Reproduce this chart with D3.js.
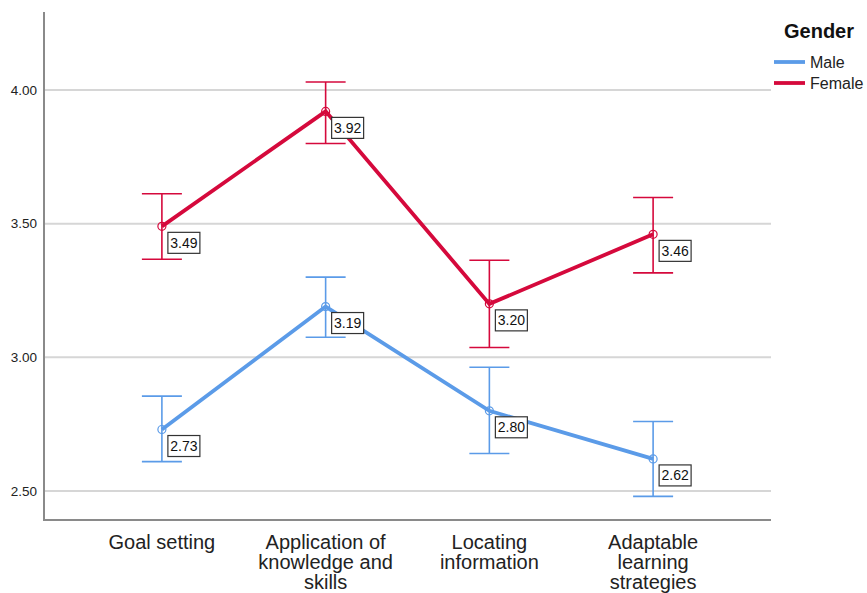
<!DOCTYPE html>
<html>
<head>
<meta charset="utf-8">
<script src="https://cdn.jsdelivr.net/npm/d3@7"></script>
<style>
  body { margin: 0; background: #fff; }
  svg { display: block; font-family: "Liberation Sans", Arial, sans-serif; }
</style>
</head>
<body>
<svg id="chart" width="867" height="593"></svg>
<script>
// Estimated marginal means by gender across four learning dimensions
const categories = [
  ["Goal setting"],
  ["Application of", "knowledge and", "skills"],
  ["Locating", "information"],
  ["Adaptable", "learning", "strategies"]
];
const categoryKeys = ["Goal setting", "Application of knowledge and skills", "Locating information", "Adaptable learning strategies"];
const groups = ["Male", "Female"];
const groupColors = ["#5b9be8", "#d5093c"];

const maleMeans = [2.73, 3.19, 2.80, 2.62];
const maleLow   = [2.61, 3.075, 2.64, 2.48];
const maleHigh  = [2.855, 3.30, 2.963, 2.76];

const femaleMeans = [3.49, 3.92, 3.20, 3.46];
const femaleLow   = [3.367, 3.80, 3.037, 3.316];
const femaleHigh  = [3.612, 4.03, 3.363, 3.598];

const yTicks = [2.50, 3.00, 3.50, 4.00];

const series = [
  { name: groups[0], color: groupColors[0], mean: maleMeans, low: maleLow, high: maleHigh },
  { name: groups[1], color: groupColors[1], mean: femaleMeans, low: femaleLow, high: femaleHigh }
];

const svg = d3.select("#chart");
const plot = { left: 44, right: 771, top: 12, bottom: 520 };

const x = d3.scalePoint().domain(categoryKeys).range([plot.left, plot.right]).padding(0.72);
const y = d3.scaleLinear().domain([2.5, 4.0]).range([491, 90]);

// gridlines
svg.append("g").selectAll("line").data(yTicks).join("line")
  .attr("x1", plot.left).attr("x2", plot.right)
  .attr("y1", d => y(d)).attr("y2", d => y(d))
  .attr("stroke", "#d6d6d6").attr("stroke-width", 2);

// y axis
const yAxis = d3.axisLeft(y).tickValues(yTicks).tickFormat(d3.format(".2f")).tickSize(0).tickPadding(7);
const gy = svg.append("g").attr("transform", `translate(${plot.left},0)`).call(yAxis);
gy.select(".domain").remove();
gy.selectAll("text").attr("font-size", 13.5).attr("fill", "#222");
svg.append("line").attr("x1", plot.left).attr("x2", plot.left)
  .attr("y1", plot.top).attr("y2", plot.bottom).attr("stroke", "#8a8a8a").attr("stroke-width", 2);

// x axis
const xAxis = d3.axisBottom(x).tickSize(0).tickFormat("");
const gx = svg.append("g").attr("transform", `translate(0,${plot.bottom})`).call(xAxis);
gx.select(".domain").remove();
svg.append("line").attr("x1", plot.left - 1).attr("x2", plot.right)
  .attr("y1", plot.bottom).attr("y2", plot.bottom).attr("stroke", "#8a8a8a").attr("stroke-width", 2);

const catLabels = svg.append("g").selectAll("text").data(categoryKeys).join("text")
  .attr("x", d => x(d)).attr("y", 549)
  .attr("text-anchor", "middle").attr("font-size", 20).attr("fill", "#222");
catLabels.each(function(d, i) {
  d3.select(this).selectAll("tspan").data(categories[i]).join("tspan")
    .attr("x", x(d)).attr("dy", (t, j) => j === 0 ? 0 : 20).text(t => t);
});

// series
const capHalf = 20;
series.forEach(s => {
  const g = svg.append("g");
  const pts = categoryKeys.map((k, i) => ({ k, i }));
  // error bars
  const eb = g.append("g").attr("stroke", s.color).attr("stroke-width", 1.6);
  eb.selectAll(".stem").data(pts).join("line")
    .attr("x1", d => x(d.k)).attr("x2", d => x(d.k))
    .attr("y1", d => y(s.low[d.i])).attr("y2", d => y(s.high[d.i]));
  eb.selectAll(".capTop").data(pts).join("line")
    .attr("x1", d => x(d.k) - capHalf).attr("x2", d => x(d.k) + capHalf)
    .attr("y1", d => y(s.high[d.i])).attr("y2", d => y(s.high[d.i]));
  eb.selectAll(".capBot").data(pts).join("line")
    .attr("x1", d => x(d.k) - capHalf).attr("x2", d => x(d.k) + capHalf)
    .attr("y1", d => y(s.low[d.i])).attr("y2", d => y(s.low[d.i]));
  // mean line
  g.append("path").datum(pts)
    .attr("fill", "none").attr("stroke", s.color).attr("stroke-width", 3.8)
    .attr("d", d3.line().x(d => x(d.k)).y(d => y(s.mean[d.i])));
  g.selectAll("circle").data(pts).join("circle")
    .attr("cx", d => x(d.k)).attr("cy", d => y(s.mean[d.i])).attr("r", 4)
    .attr("fill", "none").attr("stroke", s.color).attr("stroke-width", 1.2);
  // value labels
  const lab = g.selectAll(".lab").data(pts).join("g")
    .attr("transform", d => `translate(${x(d.k) + 6},${y(s.mean[d.i]) + 6})`);
  lab.append("rect").attr("width", 32).attr("height", 21)
    .attr("fill", "#fff").attr("stroke", "#333").attr("stroke-width", 1.2);
  lab.append("text").attr("x", 16).attr("y", 15.5).attr("text-anchor", "middle")
    .attr("font-size", 14).attr("fill", "#111").text(d => s.mean[d.i].toFixed(2));
});

// legend
const legend = svg.append("g");
legend.append("text").attr("x", 784).attr("y", 38).attr("font-size", 20)
  .attr("font-weight", "bold").attr("fill", "#111").text("Gender");
const li = legend.selectAll(".li").data(series).join("g")
  .attr("transform", (d, i) => `translate(774,${62 + i * 21})`);
li.append("line").attr("x1", 0).attr("x2", 31).attr("stroke", d => d.color).attr("stroke-width", 3.8);
li.append("text").attr("x", 36).attr("y", 6).attr("font-size", 16).attr("fill", "#222").text(d => d.name);
</script>
</body>
</html>
